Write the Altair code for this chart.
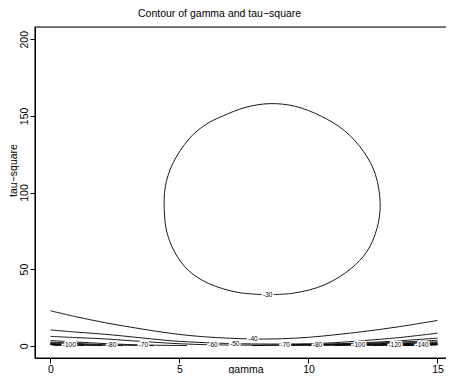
import altair as alt
import pandas as pd

# ---- contour pieces (gamma, tau-square) ----
g_30 = [8.42, 9.45, 10.6, 11.63, 12.27, 12.65, 12.78, 12.59, 12.14, 11.4, 10.5, 9.5, 8.5, 7.55, 6.65,
        6.02, 5.37, 4.72, 4.45, 4.41, 4.51, 4.83, 5.35, 6.12, 7.27, 8.42]
t_30 = [33.3, 34.4, 39.6, 50.1, 61.6, 76.3, 92.0, 112.0, 126.6, 140.3, 149.7, 156.2, 158.0, 155.5, 149.7,
        144.4, 135.0, 118.2, 103.6, 88.9, 74.2, 60.6, 49.1, 40.7, 34.8, 33.3]

g_40 = [0, 1, 2.1, 3.3, 4.7, 6.0, 7.85, 9.0, 10.0, 11.0, 12.1, 13.5, 15]
t_40 = [22.8, 18.9, 15.1, 11.6, 8.0, 5.8, 4.4, 4.6, 5.5, 7.1, 9.2, 12.4, 16.5]

g_50 = [0, 1, 2.1, 3.5, 4.7, 6.0, 7.1, 8.5, 10.0, 11.0, 12.1, 13.5, 15]
t_50 = [10.3, 8.9, 7.5, 5.2, 3.2, 2.0, 1.4, 1.1, 1.3, 2.0, 3.3, 5.3, 8.2]

g_60 = [0, 1, 2.1, 3.0, 4.0, 5.0, 6.3, 8.0, 9.5, 11.0, 12.1, 13.5, 15]
t_60 = [6.1, 5.3, 4.5, 3.4, 2.3, 1.3, 0.6, 0.4, 0.6, 1.2, 1.9, 3.2, 5.0]

g_70a = [0, 1, 2, 3, 3.6, 4.5, 5.3]
t_70a = [3.4, 2.4, 1.5, 0.8, 0.5, 0.25, 0.1]
g_70b = [7.8, 8.5, 9.1, 10, 11, 12, 13, 14, 15]
t_70b = [0.1, 0.25, 0.45, 0.7, 1.0, 1.4, 2.0, 2.7, 3.6]

g_80a = [0, 1, 2, 2.4, 3.2, 4.0]
t_80a = [2.4, 1.5, 0.7, 0.5, 0.25, 0.1]
g_80b = [9.0, 9.7, 10.35, 11, 12, 13, 14, 15]
t_80b = [0.1, 0.25, 0.45, 0.65, 1.0, 1.5, 2.0, 2.6]

g_90a = [0, 1, 2, 2.8]
t_90a = [1.9, 1.0, 0.35, 0.1]
g_90b = [10.0, 10.6, 11.3, 12, 13, 14, 15]
t_90b = [0.1, 0.25, 0.45, 0.7, 1.1, 1.5, 2.0]

g_100a = [0, 0.73, 1.5, 2.0]
t_100a = [1.5, 0.6, 0.25, 0.1]
g_100b = [11.0, 11.5, 11.95, 12.5, 13, 14, 15]
t_100b = [0.1, 0.25, 0.4, 0.55, 0.75, 1.15, 1.6]

g_110a = [0, 0.6, 1.3]
t_110a = [1.2, 0.45, 0.1]
g_110b = [11.8, 12.5, 13, 14, 15]
t_110b = [0.1, 0.3, 0.45, 0.85, 1.3]

g_120a = [0, 0.4, 0.9]
t_120a = [1.0, 0.4, 0.1]
g_120b = [12.5, 13, 13.35, 14, 15]
t_120b = [0.1, 0.25, 0.35, 0.6, 1.1]

g_130a = [0, 0.5]
t_130a = [0.85, 0.1]
g_130b = [13.1, 13.6, 14, 15]
t_130b = [0.1, 0.25, 0.4, 0.9]

g_140a = [0, 0.3]
t_140a = [0.7, 0.1]
g_140b = [13.7, 14.4, 15]
t_140b = [0.1, 0.35, 0.75]

g_150b = [14.3, 15]
t_150b = [0.1, 0.6]

pieces = [
    (-30, g_30, t_30), (-40, g_40, t_40), (-50, g_50, t_50), (-60, g_60, t_60),
    (-70, g_70a, t_70a), (-70, g_70b, t_70b), (-80, g_80a, t_80a), (-80, g_80b, t_80b),
    (-90, g_90a, t_90a), (-90, g_90b, t_90b), (-100, g_100a, t_100a), (-100, g_100b, t_100b),
    (-110, g_110a, t_110a), (-110, g_110b, t_110b), (-120, g_120a, t_120a), (-120, g_120b, t_120b),
    (-130, g_130a, t_130a), (-130, g_130b, t_130b), (-140, g_140a, t_140a), (-140, g_140b, t_140b),
    (-150, g_150b, t_150b),
]

# contour labels
lab_text = ["-30", "-40", "-50", "-60", "-70", "-70", "-80", "-80", "-100", "-100", "-120", "-140"]
lab_gamma = [8.42, 7.85, 7.14, 6.3, 3.6, 9.1, 2.37, 10.35, 0.73, 11.95, 13.35, 14.4]
lab_tau = [33.3, 4.4, 1.3, 0.45, 0.5, 0.45, 0.5, 0.45, 0.6, 0.4, 0.35, 0.35]

x_ticks = [0, 5, 10, 15]
y_ticks = [0, 50, 100, 150, 200]
x_range = [-0.6, 15.33]
y_range = [-8, 208]

rows = []
for pid, (lvl, gs, ts) in enumerate(pieces):
    for i, (g, t) in enumerate(zip(gs, ts)):
        rows.append({"piece": pid, "level": lvl, "ord": i, "gamma": g, "tau": t})
df = pd.DataFrame(rows)
labels = pd.DataFrame({"text": lab_text, "gamma": lab_gamma, "tau": lab_tau})
# plot box: left edge at the x-scale start, right edge beyond the visible area (as in the reference)
frame = pd.DataFrame({"x0": [x_range[0]], "x1": [16.5], "y0": [y_range[0]], "y1": [y_range[1]]})

FONT = "Liberation Sans"
W, H = 411, 331

xscale = alt.Scale(domain=x_range, nice=False, zero=False)
yscale = alt.Scale(domain=y_range, nice=False, zero=False)

xaxis = alt.Axis(values=x_ticks, title="gamma", grid=False, tickSize=5, tickColor="black",
                 domain=True, domainColor="black",
                 labelColor="black", labelFont=FONT, labelFontSize=10.5,
                 labelBaseline="alphabetic", labelPadding=9, labelFlush=False,
                 titleFont=FONT, titleFontSize=10.5, titleFontWeight="normal", titleColor="black",
                 titleBaseline="alphabetic", titleY=14, titleX=210.5)
yaxis = alt.Axis(values=y_ticks, title="tau−square", grid=False, tickSize=5, tickColor="black",
                 domain=True, domainColor="black",
                 labelColor="black", labelFont=FONT, labelFontSize=10.5,
                 labelAngle=270, labelAlign="center", labelBaseline="alphabetic", labelPadding=3,
                 labelFlush=False,
                 titleFont=FONT, titleFontSize=10.5, titleFontWeight="normal", titleColor="black",
                 titleAngle=270, titleAlign="center", titleBaseline="alphabetic", titleX=-19, titleY=143)

lines = alt.Chart(df).mark_line(color="black", strokeWidth=0.9, interpolate="catmull-rom").encode(
    x=alt.X("gamma:Q", scale=xscale, axis=xaxis),
    y=alt.Y("tau:Q", scale=yscale, axis=yaxis),
    detail="piece:N",
    order="ord:Q",
)

box = alt.Chart(frame).mark_rect(fill="white", fillOpacity=0, stroke="black", strokeWidth=1.1).encode(
    x=alt.X("x0:Q", scale=xscale, axis=xaxis), x2="x1:Q",
    y=alt.Y("y0:Q", scale=yscale, axis=yaxis), y2="y1:Q",
)

halo = alt.Chart(labels).mark_text(font=FONT, fontSize=6.5, stroke="white", strokeWidth=3,
                                   color="white").encode(
    x=alt.X("gamma:Q", scale=xscale, axis=xaxis),
    y=alt.Y("tau:Q", scale=yscale, axis=yaxis), text="text:N")
txt = alt.Chart(labels).mark_text(font=FONT, fontSize=6.5, color="black").encode(
    x=alt.X("gamma:Q", scale=xscale, axis=xaxis),
    y=alt.Y("tau:Q", scale=yscale, axis=yaxis), text="text:N")

chart = alt.layer(lines, halo, txt, box).properties(
    width=W, height=H,
    title=alt.TitleParams("Contour of gamma and tau−square", font=FONT, fontSize=10.5,
                          fontWeight="normal", color="black", anchor="start", dx=130,
                          baseline="alphabetic", offset=-1),
    autosize=alt.AutoSizeParams(type="none"),
    padding={"left": 27, "top": 19, "right": 0, "bottom": 16},
).configure_view(stroke=None).configure(background="white")

chart.save("out.html", embed_options={"renderer": "svg", "actions": False})
